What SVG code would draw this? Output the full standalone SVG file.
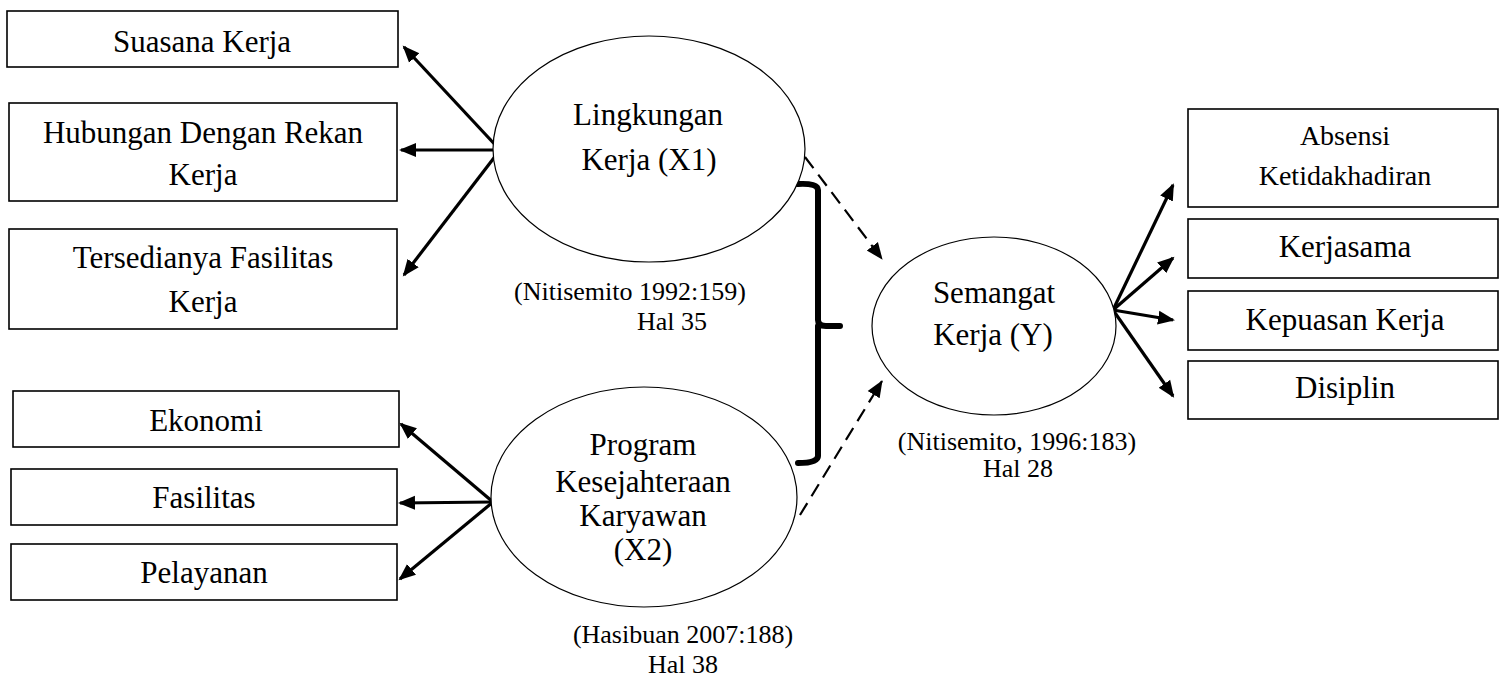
<svg xmlns="http://www.w3.org/2000/svg" width="1506" height="680" viewBox="0 0 1506 680">
<style>
.box{fill:#fff;stroke:#000;stroke-width:1.6}
.ell{fill:#fff;stroke:#000;stroke-width:1.2}
text{font-family:"Liberation Serif","Times New Roman",serif;fill:#000;text-anchor:middle}
.t{font-size:31px}
.ts{font-size:28px}
.c{font-size:26px}
.a{stroke:#000;stroke-width:3.2;fill:none;marker-end:url(#ah)}
.d{stroke:#000;stroke-width:2.2;fill:none;stroke-dasharray:14 8;marker-end:url(#dh)}
</style>
<defs>
<marker id="ah" markerUnits="userSpaceOnUse" markerWidth="20" markerHeight="16" refX="15" refY="7" orient="auto" viewBox="0 0 20 14">
<path d="M0,0 L17,7 L0,14 Z" fill="#000"/>
</marker>
<marker id="dh" markerUnits="userSpaceOnUse" markerWidth="20" markerHeight="16" refX="16" refY="7" orient="auto" viewBox="0 0 20 14">
<path d="M0,0 L17,7 L0,14 Z" fill="#000"/>
</marker>
</defs>

<g id="connectors">
<line class="a" x1="500" y1="150" x2="404" y2="47"/>
<line class="a" x1="500" y1="150" x2="401" y2="150"/>
<line class="a" x1="500" y1="150" x2="404" y2="275"/>
<line class="a" x1="493" y1="502" x2="401" y2="424"/>
<line class="a" x1="493" y1="502" x2="400" y2="503"/>
<line class="a" x1="493" y1="502" x2="400" y2="579"/>
<line class="a" x1="1113" y1="310" x2="1173" y2="185"/>
<line class="a" x1="1113" y1="310" x2="1173" y2="258"/>
<line class="a" x1="1113" y1="310" x2="1173" y2="320"/>
<line class="a" x1="1113" y1="310" x2="1173" y2="396"/>
<line class="d" x1="805" y1="157" x2="882" y2="259"/>
<line class="d" x1="800" y1="515" x2="882" y2="381"/>
<path d="M798,184 Q818,183 818,190 L818,320 Q818,326 826,326 L840,326 M818,326 L818,456 Q818,463 798,463" stroke="#000" stroke-width="6" fill="none" stroke-linecap="round" stroke-linejoin="round"/>
</g>

<g id="n-suasana"><rect class="box" x="7" y="11" width="391" height="56"/><text class="t" x="202" y="52">Suasana Kerja</text></g>
<g id="n-hubungan"><rect class="box" x="9" y="103" width="388" height="98"/><text class="t" x="203" y="143">Hubungan Dengan Rekan</text><text class="t" x="203" y="185">Kerja</text></g>
<g id="n-tersedia"><rect class="box" x="9" y="229" width="388" height="100"/><text class="t" x="203" y="268">Tersedianya Fasilitas</text><text class="t" x="203" y="312">Kerja</text></g>
<g id="n-ekonomi"><rect class="box" x="13" y="391" width="386" height="56"/><text class="t" x="206" y="431">Ekonomi</text></g>
<g id="n-fasilitas"><rect class="box" x="11" y="469" width="386" height="56"/><text class="t" x="204" y="508">Fasilitas</text></g>
<g id="n-pelayanan"><rect class="box" x="11" y="544" width="386" height="56"/><text class="t" x="204" y="583">Pelayanan</text></g>

<g id="n-x1"><ellipse class="ell" cx="649" cy="149" rx="156" ry="113"/><text class="t" x="648" y="125">Lingkungan</text><text class="t" x="649" y="170">Kerja (X1)</text></g>
<g id="c-x1"><text class="c" x="630" y="300">(Nitisemito 1992:159)</text><text class="c" x="672" y="330">Hal 35</text></g>

<g id="n-x2"><ellipse class="ell" cx="644" cy="497" rx="153" ry="110"/><text class="t" x="643" y="455">Program</text><text class="t" x="643" y="492">Kesejahteraan</text><text class="t" x="643" y="526">Karyawan</text><text class="t" x="643" y="560">(X2)</text></g>
<g id="c-x2"><text class="c" x="683" y="643">(Hasibuan 2007:188)</text><text class="c" x="683" y="673">Hal 38</text></g>

<g id="n-y"><ellipse class="ell" cx="994" cy="326" rx="122" ry="89"/><text class="t" x="994" y="303">Semangat</text><text class="t" x="993" y="345">Kerja (Y)</text></g>
<g id="c-y"><text class="c" x="1017" y="450">(Nitisemito, 1996:183)</text><text class="c" x="1018" y="477">Hal 28</text></g>

<g id="n-absensi"><rect class="box" x="1188" y="109" width="310" height="98"/><text class="ts" x="1345" y="145">Absensi</text><text class="ts" x="1345" y="185">Ketidakhadiran</text></g>
<g id="n-kerjasama"><rect class="box" x="1188" y="219" width="310" height="59"/><text class="t" x="1345" y="257">Kerjasama</text></g>
<g id="n-kepuasan"><rect class="box" x="1188" y="291" width="310" height="59"/><text class="t" x="1345" y="330">Kepuasan Kerja</text></g>
<g id="n-disiplin"><rect class="box" x="1188" y="361" width="310" height="58"/><text class="t" x="1345" y="398">Disiplin</text></g>
</svg>
